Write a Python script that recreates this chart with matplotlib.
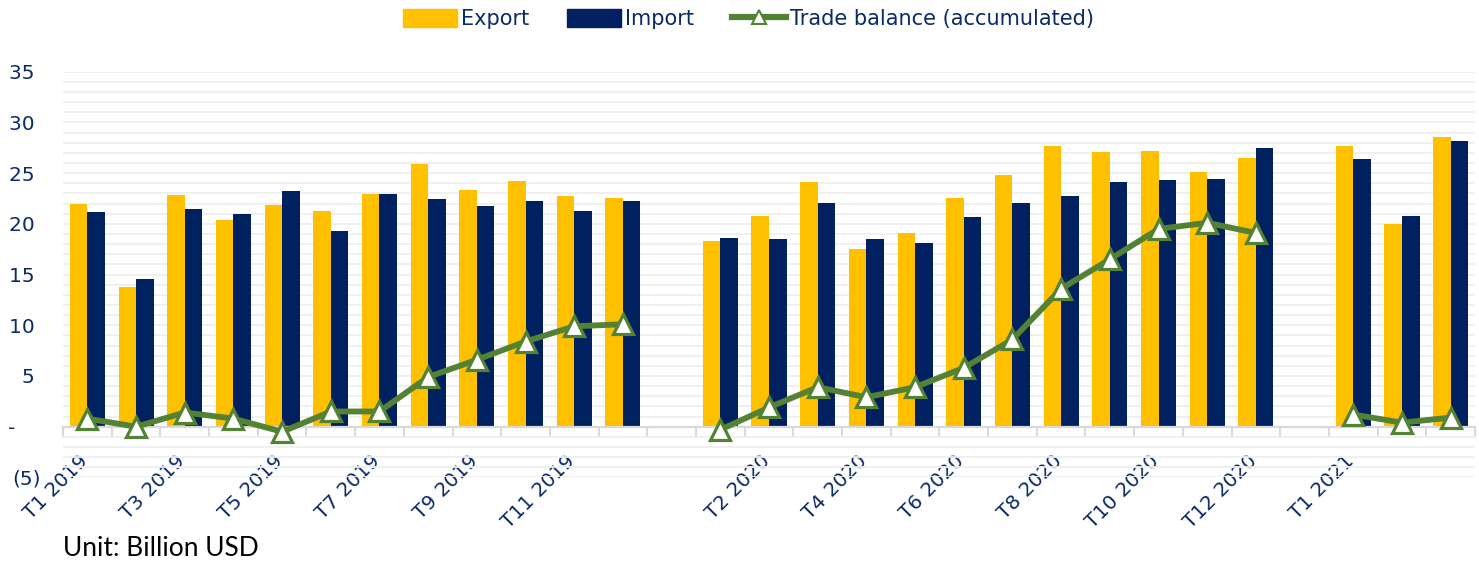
import numpy as np
import matplotlib.pyplot as plt
import matplotlib.transforms as mtransforms
from matplotlib.patches import Patch
from matplotlib.lines import Line2D

nan = np.nan

# Categories (blank slots separate the years)
categories = ['T1 2019', 'T2 2019', 'T3 2019', 'T4 2019', 'T5 2019', 'T6 2019',
              'T7 2019', 'T8 2019', 'T9 2019', 'T10 2019', 'T11 2019', 'T12 2019',
              '',
              'T1 2020', 'T2 2020', 'T3 2020', 'T4 2020', 'T5 2020', 'T6 2020',
              'T7 2020', 'T8 2020', 'T9 2020', 'T10 2020', 'T11 2020', 'T12 2020',
              '',
              'T1 2021', 'T2 2021', '']

export = [22.0, 13.8, 22.85, 20.4, 21.85, 21.3, 22.95, 25.85, 23.35, 24.2, 22.75, 22.5,
          nan,
          18.3, 20.8, 24.1, 17.5, 19.1, 22.5, 24.8, 27.7, 27.1, 27.2, 25.1, 26.5,
          nan,
          27.7, 20.0, 28.6]
imports = [21.2, 14.6, 21.45, 20.95, 23.2, 19.25, 22.9, 22.4, 21.75, 22.3, 21.3, 22.25,
           nan,
           18.6, 18.5, 22.1, 18.5, 18.1, 20.65, 22.05, 22.7, 24.15, 24.3, 24.45, 27.45,
           nan,
           26.4, 20.75, 28.2]
balance = [0.8, 0.0, 1.4, 0.8, -0.5, 1.5, 1.5, 4.9, 6.6, 8.4, 9.9, 10.1,
           nan,
           -0.3, 1.9, 3.9, 2.9, 3.9, 5.8, 8.6, 13.6, 16.5, 19.5, 20.1, 19.1,
           nan,
           1.2, 0.4, 0.9]

y_ticks = [-5, 0, 5, 10, 15, 20, 25, 30, 35]
y_labels = ['(5)', '-    ', '5 ', '10 ', '15 ', '20 ', '25 ', '30 ', '35 ']

c_exp = '#FFC000'
c_imp = '#002060'
c_bal = '#548235'
c_txt = '#0B2A66'

fig = plt.figure(figsize=(14.79, 5.64), dpi=100)
ax = fig.add_axes([0.0426, 0.1535, 0.9547, 0.7194])

x = np.arange(len(categories))
w = 0.36
ax.bar(x - w / 2, export, w, color=c_exp, zorder=2)
ax.bar(x + w / 2, imports, w, color=c_imp, zorder=2)
ax.plot(x, balance, color=c_bal, lw=4.2, marker='^', ms=15, mfc='white',
        mec=c_bal, mew=2.3, zorder=4)

ax.set_xlim(-0.5, len(categories) - 0.5)
ax.set_ylim(-5, 35)

# grid every unit
ax.set_yticks(y_ticks)
ax.set_yticklabels(y_labels)
ax.set_yticks(np.arange(-5, 36, 1), minor=True)
ax.grid(axis='y', which='both', color='#efefef', lw=1.3, zorder=0)
ax.set_axisbelow(True)
ax.tick_params(axis='y', which='both', length=0, labelsize=14.5,
               labelcolor=c_txt, pad=16)

# x axis at zero, label every other category
ax.spines['bottom'].set_position(('data', 0))
ax.spines['bottom'].set_color('#d9d9d9')
ax.spines['bottom'].set_linewidth(1.6)
ax.spines['bottom'].set_zorder(3)
for s in ['left', 'right', 'top']:
    ax.spines[s].set_visible(False)

ax.set_xticks(x[::2])
ax.set_xticklabels(categories[::2], rotation=45, ha='right',
                   rotation_mode='anchor', va='top')
ax.set_xticks(np.arange(-0.5, len(categories), 1), minor=True)
ax.tick_params(axis='x', which='major', length=0, pad=18, labelsize=14.3,
               labelcolor=c_txt)
ax.tick_params(axis='x', which='minor', length=7, width=1.5,
               color='#d9d9d9', direction='out')
shift = mtransforms.ScaledTranslation(-0.09, 0, fig.dpi_scale_trans)
for lab in ax.get_xticklabels():
    lab.set_transform(lab.get_transform() + shift)

# legend
handles = [Patch(color=c_exp), Patch(color=c_imp),
           Line2D([], [], color=c_bal, lw=4.5, marker='^', ms=10, mfc='white',
                  mec=c_bal, mew=1.5)]
leg = fig.legend(handles, ['Export', 'Import', 'Trade balance (accumulated)'],
                 loc='center', bbox_to_anchor=(0.506, 0.966), ncol=3,
                 frameon=False, fontsize=15, handlelength=2.6,
                 handleheight=0.9, handletextpad=0.2, columnspacing=1.8)
for t in leg.get_texts():
    t.set_color(c_txt)

fig.text(0.0426, 1 - 549 / 564, 'Unit: Billion USD', fontsize=19,
         family='Lato', va='center', ha='left', color='black')

fig.savefig('out.png', dpi=100)
